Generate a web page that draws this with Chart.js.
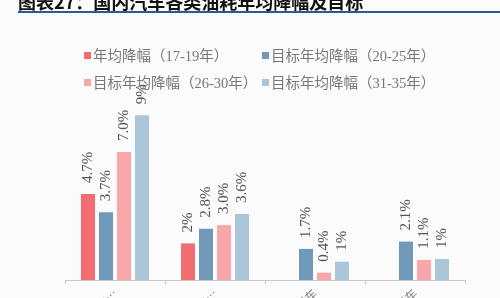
<!DOCTYPE html>
<html>
<head>
<meta charset="utf-8">
<script src="https://cdn.jsdelivr.net/npm/chart.js@4"></script>
<style>
  html, body { margin: 0; padding: 0; background: #fbfbfb; overflow: hidden; }
  #wrap { position: relative; width: 500px; height: 298px; overflow: hidden; }
  #chart { position: absolute; left: 0; top: 0; }
  #title { position: absolute; left: 18px; top: -12px; font: bold 18px "Noto Sans CJK SC", sans-serif; color: #111; white-space: nowrap; }
  #rule { position: absolute; left: 18px; right: 0; top: 11px; height: 2px; background: #2a5a96; }
  .leg { position: absolute; font: 14.5px "Liberation Serif", "Noto Sans CJK SC", serif; color: #777; white-space: nowrap; line-height: 16px; }
  .leg i { display: inline-block; width: 7px; height: 7px; margin-right: 2px; vertical-align: 2px; }
</style>
</head>
<body>
<div id="wrap">
  <canvas id="chart" width="500" height="298"></canvas>
  <div id="title">图表27：国内汽车各类油耗年均降幅及目标</div>
  <div id="rule"></div>
  <div id="legend"></div>
</div>
<script>
const categories = ["乘用车…", "商用车…", "重型车", "轻型车"];

const seriesNames = [
  "年均降幅（17-19年）",
  "目标年均降幅（20-25年）",
  "目标年均降幅（26-30年）",
  "目标年均降幅（31-35年）"
];
const seriesColors = ["#f26d70", "#6f98b9", "#f8a6a9", "#abc5d9"];

const fall1719 = [4.7, 2.0, null, null];
const target2025 = [3.7, 2.8, 1.7, 2.1];
const target2630 = [7.0, 3.0, 0.4, 1.1];
const target3135 = [9.0, 3.6, 1.0, 1.15];

const labels1719 = ["4.7%", "2%", null, null];
const labels2025 = ["3.7%", "2.8%", "1.7%", "2.1%"];
const labels2630 = ["7.0%", "3.0%", "0.4%", "1.1%"];
const labels3135 = ["9%", "3.6%", "1%", "1%"];

const seriesValues = [fall1719, target2025, target2630, target3135];
const seriesLabels = [labels1719, labels2025, labels2630, labels3135];

// legend laid out in two aligned columns
const legendPos = [[84, 48], [262, 48], [84, 75], [262, 75]];
const legendBox = document.getElementById("legend");
seriesNames.forEach((name, i) => {
  const d = document.createElement("div");
  d.className = "leg";
  d.style.left = legendPos[i][0] + "px";
  d.style.top = legendPos[i][1] + "px";
  d.innerHTML = `<i style="background:${seriesColors[i]}"></i>${name}`;
  legendBox.appendChild(d);
});

const valueLabels = {
  id: "valueLabels",
  afterDatasetsDraw(chart) {
    const ctx = chart.ctx;
    ctx.save();
    ctx.fillStyle = "#555";
    ctx.font = '15px "Liberation Serif", serif';
    ctx.textAlign = "left";
    ctx.textBaseline = "middle";
    chart.data.datasets.forEach((ds, i) => {
      chart.getDatasetMeta(i).data.forEach((bar, j) => {
        const txt = seriesLabels[i][j];
        if (!txt || ds.data[j] == null) return;
        ctx.save();
        ctx.translate(bar.x, bar.y - 11);
        ctx.rotate(-Math.PI / 2);
        ctx.fillText(txt, 0, 0);
        ctx.restore();
      });
    });
    ctx.restore();
  }
};

new Chart(document.getElementById("chart").getContext("2d"), {
  type: "bar",
  data: {
    labels: categories,
    datasets: seriesNames.map((name, i) => ({
      label: name,
      data: seriesValues[i],
      backgroundColor: seriesColors[i],
      categoryPercentage: 0.72,
      barPercentage: 0.78
    }))
  },
  options: {
    responsive: false,
    animation: false,
    layout: { padding: { top: 97, left: 65, right: 35, bottom: 0 } },
    plugins: {
      legend: { display: false },
      tooltip: { enabled: false }
    },
    scales: {
      x: {
        grid: { display: true, drawOnChartArea: false, drawTicks: true, tickLength: 4, color: "#c8c8c8" },
        border: { color: "#c8c8c8" },
        ticks: {
          autoSkip: false,
          minRotation: 45,
          maxRotation: 45,
          padding: 2,
          color: "#888",
          font: { size: 12, family: '"Noto Sans CJK SC", sans-serif' }
        },
        afterFit(axis) { axis.height = 18; }
      },
      y: { display: false, min: 0, max: 10 }
    }
  },
  plugins: [valueLabels]
});
</script>
</body>
</html>
